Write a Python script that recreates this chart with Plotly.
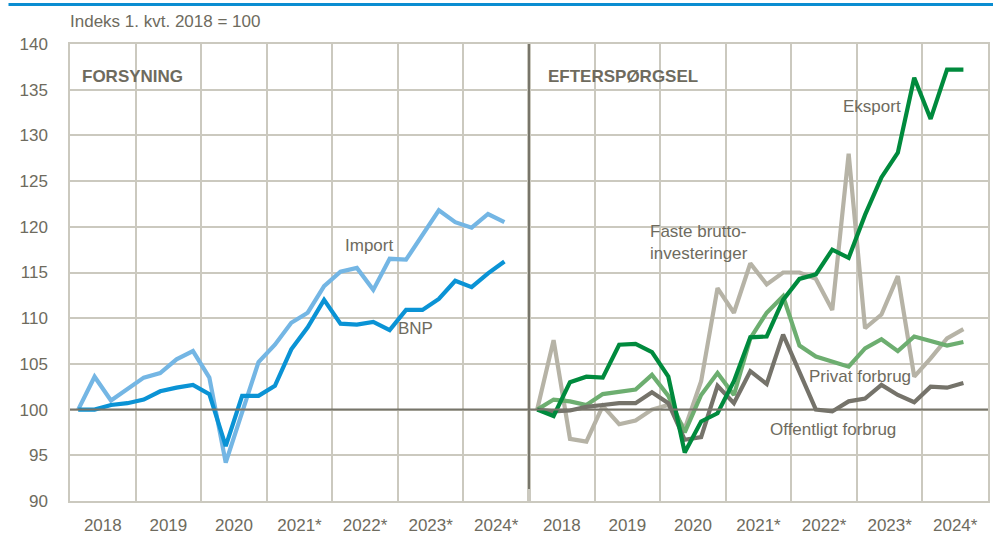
import plotly.graph_objects as go

# Quarterly data, 2018Q1 .. 2024Q3 (index 1. kvt. 2018 = 100)
quarters = list(range(27))
years = ["2018", "2019", "2020", "2021*", "2022*", "2023*", "2024*"]

import_vals = [100, 103.6, 101.0, 102.2, 103.5, 104.0, 105.5, 106.4, 103.5, 94.2, 99.8,
               105.2, 107.1, 109.5, 110.6, 113.5, 115.1, 115.5, 113.1, 116.5, 116.4,
               119.1, 121.8, 120.5, 119.9, 121.4, 120.5]
bnp_vals = [100, 100, 100.5, 100.7, 101.1, 102.0, 102.4, 102.7, 101.7, 96.0, 101.5,
            101.5, 102.6, 106.6, 109.0, 112.0, 109.4, 109.3, 109.6, 108.7, 110.9,
            110.9, 112.1, 114.1, 113.4, 114.9, 116.2]

eksport_vals = [100, 99.3, 103.0, 103.6, 103.5, 107.1, 107.2, 106.3, 103.6, 95.3, 98.7,
                99.6, 103.1, 107.9, 108.0, 112.0, 114.3, 114.8, 117.5, 116.6, 121.3,
                125.4, 128.1, 136.3, 131.8, 137.2, 137.2]
faste_vals = [100, 107.6, 96.8, 96.5, 100.4, 98.4, 98.8, 100.0, 100.5, 97.9, 103.1,
              113.3, 110.6, 116.0, 113.7, 115.0, 115.0, 114.3, 110.9, 128.0, 108.9,
              110.4, 114.6, 103.6, 105.6, 107.8, 108.8]
privat_vals = [100, 101.1, 100.9, 100.5, 101.7, 101.9, 102.2, 103.8, 101.5, 97.5, 101.6,
               104.0, 101.6, 107.8, 110.6, 112.4, 107.0, 105.8, 105.3, 104.7, 106.7,
               107.7, 106.4, 108.0, 107.5, 107.0, 107.4]
offentligt_vals = [100, 99.8, 99.9, 100.3, 100.5, 100.7, 100.7, 101.9, 100.7, 96.7, 97.0,
                   102.6, 100.7, 104.2, 102.8, 108.2, 104.1, 100.0, 99.8, 100.9, 101.2,
                   102.7, 101.6, 100.8, 102.5, 102.4, 102.9]

FONT = "Liberation Sans, Arial, sans-serif"
TXT = "#6E6B5E"
GRID = "#CBC9BF"
DARK = "#77756A"
FS = 17

fig = go.Figure()

def add(x, y, color, xa, ya, w=4.2):
    fig.add_trace(go.Scatter(x=x, y=y, mode="lines", line=dict(color=color, width=w),
                             xaxis=xa, yaxis=ya, showlegend=False, hoverinfo="skip"))

add(quarters, import_vals, "#74B6E4", "x", "y")
add(quarters, bnp_vals, "#0A93D5", "x", "y")
add(quarters, faste_vals, "#B6B3A6", "x2", "y2")
add(quarters, privat_vals, "#6DAE70", "x2", "y2")
add(quarters, offentligt_vals, "#75736A", "x2", "y2")
add(quarters, eksport_vals, "#008A3D", "x2", "y2")

year_centers = [1.5 + 4 * i for i in range(7)]
year_bounds = [-0.5 + 4 * i for i in range(8)]

xcommon = dict(range=[-0.5, 27.5], tickvals=year_centers, ticktext=years, showgrid=False,
               ticks="outside", ticklen=8, tickcolor="rgba(0,0,0,0)", automargin=False,
               minor=dict(tickvals=year_bounds, showgrid=True, gridcolor=GRID, gridwidth=1.5),
               showline=True, linecolor=GRID, linewidth=1.5, mirror=True, zeroline=False,
               tickfont=dict(family=FONT, size=FS, color=TXT), fixedrange=True)
ycommon = dict(range=[90, 140], dtick=5, showgrid=True, gridcolor=GRID, gridwidth=1.5,
               showline=True, linecolor=GRID, linewidth=1.5, mirror=True, zeroline=False,
               automargin=False,
               tickfont=dict(family=FONT, size=FS, color=TXT), fixedrange=True)

fig.update_layout(
    width=993, height=535,
    margin=dict(l=69.5, r=5, t=43.5, b=34),
    paper_bgcolor="white", plot_bgcolor="white",
    xaxis=dict(domain=[0, 0.5], anchor="y", **xcommon),
    xaxis2=dict(domain=[0.5, 1], anchor="y2", **xcommon),
    yaxis=dict(anchor="x", ticks="outside", ticklen=17, tickcolor="rgba(0,0,0,0)", **ycommon),
    yaxis2=dict(anchor="x2", matches="y", showticklabels=False, **ycommon),
    font=dict(family=FONT, color=TXT),
)

# 100-line and divider
fig.add_shape(type="line", xref="paper", yref="y", x0=0, x1=1, y0=100, y1=100,
              line=dict(color=DARK, width=2))
fig.add_shape(type="line", xref="paper", yref="y", x0=0.5, x1=0.5, y0=91.3, y1=140,
              line=dict(color=DARK, width=2))
# top blue rule
fig.add_shape(type="line", xref="paper", yref="paper", x0=-0.067, x1=1.006, y0=1.0863, y1=1.0863,
              line=dict(color="#0A8DD1", width=3))

def ann(text, x, y, xa, ya, anchor="center", bold=False, size=FS):
    fig.add_annotation(text=f"<b>{text}</b>" if bold else text, x=x, y=y, xref=xa, yref=ya,
                       showarrow=False, xanchor=anchor, yanchor="middle",
                       font=dict(family=FONT, size=size, color=TXT), align="left")

ann("Indeks 1. kvt. 2018 = 100", -0.002, 1.049, "paper", "paper", anchor="left")
ann("FORSYNING", 0.08, 136.4, "x", "y", anchor="left", bold=True)
ann("EFTERSPØRGSEL", 0.54, 136.4, "x2", "y2", anchor="left", bold=True)
ann("Import", 17.76, 117.9, "x", "y")
ann("BNP", 20.6, 108.85, "x", "y")
ann("Eksport", 20.4, 133.2, "x2", "y2")
ann("Faste brutto-<br>investeringer", 6.76, 118.3, "x2", "y2", anchor="left")
ann("Privat forbrug", 19.68, 103.6, "x2", "y2")
ann("Offentligt forbrug", 18.04, 97.8, "x2", "y2")

fig.write_html("out.html", config={"displayModeBar": False},
               post_script="document.body.style.margin='0';")
